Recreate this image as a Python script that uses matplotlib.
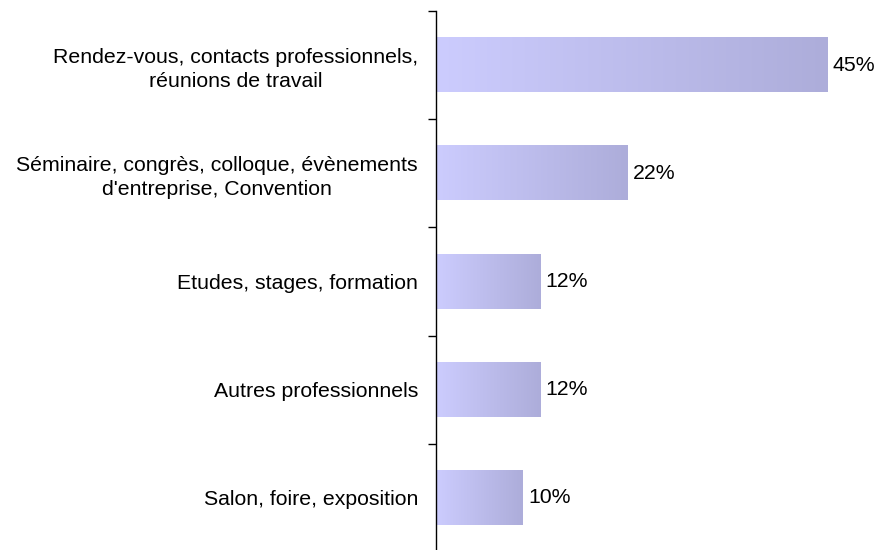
import numpy as np
import matplotlib.pyplot as plt
from matplotlib.colors import LinearSegmentedColormap

categories = ["Rendez-vous, contacts professionnels,\nréunions de travail",
              "Séminaire, congrès, colloque, évènements\nd'entreprise, Convention",
              "Etudes, stages, formation",
              "Autres professionnels",
              "Salon, foire, exposition"]
values = [45, 22, 12, 12, 10]
labels = ["45%", "22%", "12%", "12%", "10%"]

plt.rcParams['font.family'] = ['Liberation Sans', 'DejaVu Sans']

fig = plt.figure(figsize=(8.81, 5.5), dpi=100)
ax = fig.add_axes([436 / 881, -2 / 550, 435 / 881, 541 / 550])

# each bar gets its own left-to-right gradient
cmap = LinearSegmentedColormap.from_list("bar", ["#ccccfe", "#adadda"])
grad = np.linspace(0, 1, 256).reshape(1, -1)
h = 0.5
y = np.arange(len(values))
for yi, v, lab in zip(y, values, labels):
    ax.imshow(grad, cmap=cmap, aspect='auto', interpolation='bilinear',
              extent=(0, v, yi + h / 2, yi - h / 2), zorder=2)
    ax.text(v + 0.6, yi, lab, va='center', ha='left', fontsize=15.3)

ax.set_xlim(0, 50)
ax.set_ylim(len(values) - 0.5, -0.5)

ax.set_yticks(y)
ax.set_yticklabels(categories, ha='right', multialignment='center',
                   fontsize=15.3, linespacing=1.32)
ax.tick_params(axis='y', which='major', length=0, pad=13)
ax.set_yticks(np.arange(-0.5, len(values)), minor=True)
ax.tick_params(axis='y', which='minor', length=6, width=1, direction='out')
ax.set_xticks([])
for s in ['top', 'right', 'bottom']:
    ax.spines[s].set_visible(False)
ax.spines['left'].set_linewidth(1)

fig.savefig("out.png", dpi=100)
